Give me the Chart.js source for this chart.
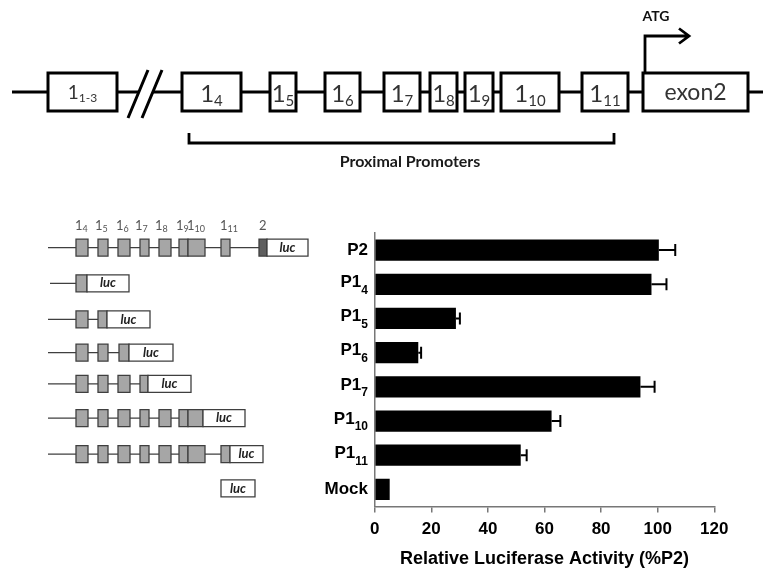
<!DOCTYPE html>
<html lang="en">
<head>
<meta charset="UTF-8">
<title>Relative Luciferase Activity</title>
<script src="https://cdn.jsdelivr.net/npm/chart.js"></script>
<style>
  html, body { margin: 0; padding: 0; background: #fff; }
  #wrap { width: 763px; height: 572px; position: relative; }
</style>
</head>
<body>
<div id="wrap"><canvas id="chart"></canvas></div>
<script>
// constructs, top to bottom (name + subscript)
var constructNames = ['P2', 'P1', 'P1', 'P1', 'P1', 'P1', 'P1', 'Mock'];
var constructSubs = ['', '4', '5', '6', '7', '10', '11', ''];
var activity = [100.4, 97.8, 28.7, 15.4, 93.9, 62.5, 51.6, 5.3];
var activityErr = [5.8, 5.3, 1.4, 1.0, 5.0, 3.1, 2.1, 0];
var xTicks = [0, 20, 40, 60, 80, 100, 120];

var labels = constructNames.map(function (n, i) { return n + constructSubs[i]; });

// schematic layout (pixels)
var exonX = {4: [76, 88], 5: [98, 108], 6: [118, 130], 7: [140, 149], 8: [159, 171], 9: [179, 188], 10: [188, 205], 11: [221, 230]};
var rows = [
    {start: 48, exons: [4, 5, 6, 7, 8, 9, 10, 11], dark: [259, 267], luc: [267, 308], dy: -2.5},
    {start: 50, exons: [], last: [76, 87], luc: [87, 129], dy: -1},
    {start: 48, exons: [4], last: [98, 107], luc: [107, 150], dy: 1},
    {start: 48, exons: [4, 5], last: [119, 129], luc: [129, 173], dy: 0},
    {start: 48, exons: [4, 5, 6], last: [140, 148], luc: [148, 191], dy: -3},
    {start: 48, exons: [4, 5, 6, 7, 8, 9], last: [188, 203], luc: [203, 245], dy: -3},
    {start: 48, exons: [4, 5, 6, 7, 8, 9, 10], last: [221, 230], luc: [230, 263], dy: -1},
    {start: null, exons: [], luc: [221, 255], dy: -1}
];
var headLabels = [[75, '4'], [95, '5'], [116, '6'], [135, '7'], [155, '8'], [176, '9'], [187, '10'], [220, '11']];
var geneBoxes = [
    [48, 117, '1', '1-3'], [182, 241, '1', '4'], [270, 296, '1', '5'], [325, 360, '1', '6'],
    [384, 420, '1', '7'], [430, 457, '1', '8'], [465, 493, '1', '9'], [501, 559, '1', '10'],
    [582, 628, '1', '11'], [643, 748, 'exon2', '']
];

function subText(ctx, main, sub, x, y, mainFont, subFont, subDy, align) {
    ctx.font = mainFont;
    var mw = ctx.measureText(main).width;
    ctx.font = subFont;
    var sw = sub ? ctx.measureText(sub).width : 0;
    var left = x;
    if (align === 'right') left = x - mw - sw;
    if (align === 'center') left = x - (mw + sw) / 2;
    ctx.textAlign = 'left';
    ctx.font = mainFont;
    ctx.fillText(main, left, y);
    if (sub) {
        ctx.font = subFont;
        ctx.fillText(sub, left + mw, y + subDy);
    }
}

function box(ctx, x0, x1, yc, h, fill, stroke, lw) {
    ctx.fillStyle = fill;
    ctx.strokeStyle = stroke;
    ctx.lineWidth = lw;
    ctx.beginPath();
    ctx.rect(x0, yc - h / 2, x1 - x0, h);
    ctx.fill();
    ctx.stroke();
}

function drawGeneMap(ctx) {
    ctx.save();
    ctx.strokeStyle = '#000';
    ctx.lineWidth = 2.8;
    var ly = 92;
    ctx.beginPath();
    ctx.moveTo(12, ly); ctx.lineTo(139, ly);
    ctx.moveTo(153, ly); ctx.lineTo(763, ly);
    ctx.stroke();
    // break marks
    ctx.lineWidth = 3;
    ctx.beginPath();
    ctx.moveTo(128, 118); ctx.lineTo(148, 70);
    ctx.moveTo(142, 118); ctx.lineTo(162, 70);
    ctx.stroke();

    geneBoxes.forEach(function (b) {
        box(ctx, b[0], b[1], 92, 38, '#fff', '#000', 3);
        ctx.fillStyle = '#333';
        ctx.textBaseline = 'alphabetic';
        var cx = (b[0] + b[1]) / 2;
        if (b[2] === 'exon2') {
            ctx.textAlign = 'center';
            ctx.font = '23px Lato';
            ctx.fillText('exon2', cx, 100);
        } else if (b[3] === '1-3') {
            subText(ctx, '1', '1-3', cx, 99, '19px Lato', '12px Lato', 3, 'center');
        } else {
            subText(ctx, '1', b[3], cx, 102, '24px Lato', '15px Lato', 4, 'center');
        }
    });

    // transcription start arrow
    ctx.strokeStyle = '#000';
    ctx.lineWidth = 2.8;
    ctx.beginPath();
    ctx.moveTo(645, 73); ctx.lineTo(645, 36); ctx.lineTo(688, 36);
    ctx.moveTo(679, 28.5); ctx.lineTo(689, 36); ctx.lineTo(679, 43.5);
    ctx.stroke();
    ctx.fillStyle = '#111';
    ctx.textAlign = 'center';
    ctx.textBaseline = 'middle';
    ctx.font = 'bold 14px Lato';
    ctx.fillText('ATG', 656, 16);

    // proximal promoters bracket
    ctx.lineWidth = 2.8;
    ctx.beginPath();
    ctx.moveTo(189, 133); ctx.lineTo(189, 143); ctx.lineTo(614, 143); ctx.lineTo(614, 133);
    ctx.stroke();
    ctx.font = 'bold 16px Lato';
    ctx.fillStyle = '#1a1a1a';
    ctx.fillText('Proximal Promoters', 410, 162);
    ctx.restore();
}

function drawConstructs(ctx, yScale) {
    ctx.save();
    ctx.fillStyle = '#555';
    ctx.textBaseline = 'alphabetic';
    headLabels.forEach(function (h) {
        subText(ctx, '1', h[1], h[0], 230, '13px Lato', '9px Lato', 2, 'left');
    });
    ctx.font = '13px Lato';
    ctx.fillText('2', 259, 230);

    rows.forEach(function (r, i) {
        var yc = yScale.getPixelForValue(i) + r.dy;
        var endX = r.dark ? r.dark[0] : r.luc[0];
        if (r.start !== null) {
            ctx.strokeStyle = '#3f3f3f';
            ctx.lineWidth = 1.3;
            ctx.beginPath();
            ctx.moveTo(r.start, yc); ctx.lineTo(endX, yc);
            ctx.stroke();
        }
        r.exons.forEach(function (e) {
            box(ctx, exonX[e][0], exonX[e][1], yc, 17, '#a6a6a6', '#3f3f3f', 1.3);
        });
        if (r.last) box(ctx, r.last[0], r.last[1], yc, 17, '#a6a6a6', '#3f3f3f', 1.3);
        if (r.dark) box(ctx, r.dark[0], r.dark[1], yc, 17, '#5f5f5f', '#3f3f3f', 1.3);
        box(ctx, r.luc[0], r.luc[1], yc, 17, '#fff', '#3f3f3f', 1.3);
        ctx.fillStyle = '#222';
        ctx.textAlign = 'center';
        ctx.textBaseline = 'middle';
        ctx.font = 'italic bold 13px Lato';
        ctx.fillText('luc', (r.luc[0] + r.luc[1]) / 2, yc);
    });
    ctx.restore();
}

var figurePlugin = {
    id: 'figure',
    afterDatasetsDraw: function (chart) {
        var ctx = chart.ctx, xs = chart.scales.x, ys = chart.scales.y;
        ctx.save();
        ctx.strokeStyle = '#000';
        ctx.lineWidth = 2;
        activity.forEach(function (v, i) {
            if (!activityErr[i]) return;
            var y = ys.getPixelForValue(i);
            var x0 = xs.getPixelForValue(v);
            var x1 = xs.getPixelForValue(v + activityErr[i]);
            ctx.beginPath();
            ctx.moveTo(x0, y); ctx.lineTo(x1, y);
            ctx.moveTo(x1, y - 6); ctx.lineTo(x1, y + 6);
            ctx.stroke();
        });
        ctx.restore();
    },
    afterDraw: function (chart) {
        var ctx = chart.ctx, ys = chart.scales.y;
        ctx.save();
        ctx.fillStyle = '#000';
        ctx.textBaseline = 'middle';
        constructNames.forEach(function (n, i) {
            var y = ys.getPixelForValue(i);
            if (constructSubs[i]) {
                subText(ctx, n, constructSubs[i], 368, y - 2, 'bold 17px "Liberation Sans"', 'bold 12px "Liberation Sans"', 8, 'right');
            } else {
                subText(ctx, n, '', 368, y, 'bold 17px "Liberation Sans"', '', 0, 'right');
            }
        });
        ctx.restore();
        drawConstructs(ctx, ys);
        drawGeneMap(ctx);
    }
};

new Chart(document.getElementById('chart'), {
    type: 'bar',
    data: {
        labels: labels,
        datasets: [{
            data: activity,
            backgroundColor: '#000',
            borderWidth: 0,
            barPercentage: 0.62,
            categoryPercentage: 1
        }]
    },
    options: {
        indexAxis: 'y',
        responsive: true,
        maintainAspectRatio: false,
        animation: false,
        devicePixelRatio: 1,
        layout: { padding: { left: 0, right: 48.7, top: 233, bottom: 0 } },
        plugins: { legend: { display: false }, tooltip: { enabled: false } },
        scales: {
            x: {
                type: 'linear',
                min: 0,
                max: 120,
                afterBuildTicks: function (s) { s.ticks = xTicks.map(function (v) { return {value: v}; }); },
                afterFit: function (s) { s.height = 65.5; },
                ticks: { color: '#000', font: { family: 'Liberation Sans', size: 17, weight: 'bold' }, padding: 7, maxRotation: 0 },
                grid: { drawOnChartArea: false, drawTicks: true, tickLength: 6, color: '#777', lineWidth: 1.5 },
                border: { color: '#777', width: 1.5 },
                title: {
                    display: true,
                    text: 'Relative Luciferase Activity (%P2)',
                    color: '#000',
                    font: { family: 'Liberation Sans', size: 18, weight: 'bold' },
                    padding: { top: 0, bottom: 2 }
                }
            },
            y: {
                type: 'category',
                afterFit: function (s) { s.width = 374.7; },
                ticks: { display: false },
                grid: { display: false },
                border: { color: '#777', width: 1.5 }
            }
        }
    },
    plugins: [figurePlugin]
});
</script>
</body>
</html>
